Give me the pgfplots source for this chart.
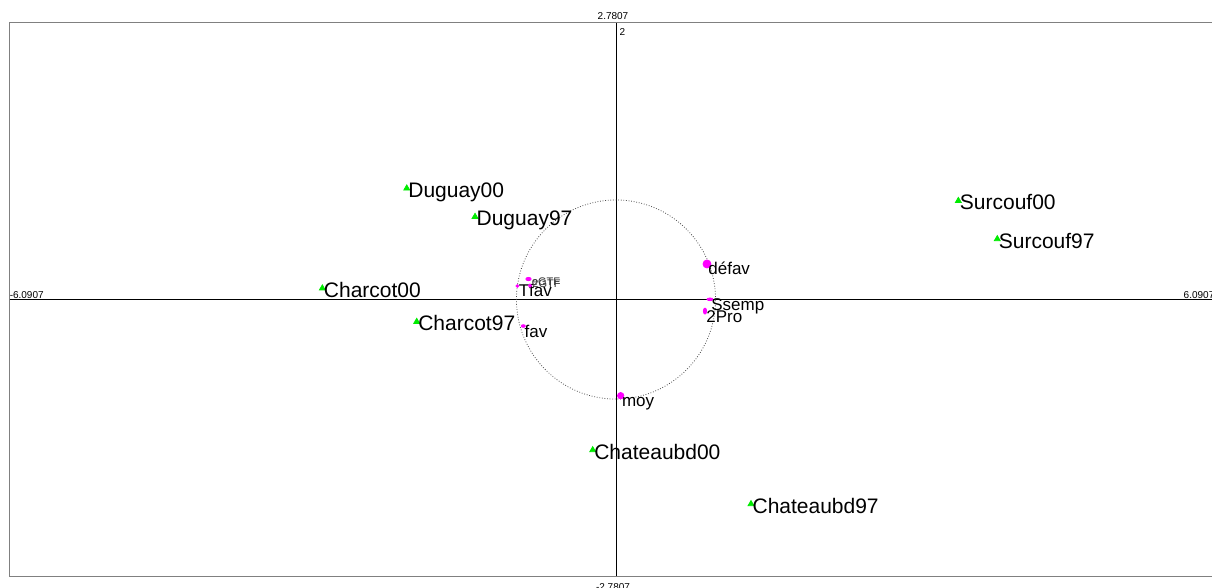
\documentclass[border=0pt]{standalone}
\usepackage{pgfplots}
\pgfplotsset{compat=1.18}
\usepackage{fontspec}
\setmainfont{Liberation Sans}
\definecolor{grn}{RGB}{0,235,0}
\definecolor{mag}{RGB}{255,0,255}
\pgfplotsset{
  maglab/.style={only marks, mark=*, color=mag, nodes near coords, point meta=explicit symbolic,
    every node near coord/.append style={font=\fontsize{8.5}{10}\selectfont, text=black, anchor=base west, inner sep=0pt, xshift=0.5pt, yshift=-5.5pt}},
}
\begin{document}
\begin{tikzpicture}
\begin{axis}[
  x=49.775pt, y=49.775pt,
  xmin=-6.0907, xmax=6.0907, ymin=-2.7807, ymax=2.7807,
  axis line style={draw=gray, line width=0.7pt},
  xtick=\empty, ytick=\empty,
  clip=false,
]
% reference lines and circle
\draw[black, line width=0.5pt] (axis cs:-6.0907,0) -- (axis cs:6.0907,0);
\draw[black, line width=0.5pt] (axis cs:0,-2.7807) -- (axis cs:0,2.7807);
\draw[gray!60!black, line width=0.4pt, dash pattern=on 0.4pt off 0.9pt] (axis cs:0,0) circle[radius=1];

% edge labels
\node[font=\fontsize{5}{6}\selectfont, anchor=base, inner sep=0pt] at (axis cs:-0.03,2.815) {2.7807};
\node[font=\fontsize{5}{6}\selectfont, anchor=base, inner sep=0pt] at (axis cs:-0.03,-2.918) {-2.7807};
\node[font=\fontsize{5}{6}\selectfont, anchor=base west, inner sep=0pt] at (axis cs:-6.094,0.015) {-6.0907};
\node[font=\fontsize{5}{6}\selectfont, anchor=base west, inner sep=0pt] at (axis cs:5.699,0.015) {6.0907};
\node[font=\fontsize{5}{6}\selectfont, anchor=base west, inner sep=0pt] at (axis cs:0.033,2.657) {2};

% individuals (green triangles)
\addplot[only marks, mark=triangle*, mark size=1.7pt, color=grn, nodes near coords, point meta=explicit symbolic,
  every node near coord/.append style={font=\fontsize{10.5}{12}\selectfont, text=black, anchor=base west, inner sep=0pt, xshift=0.6pt, yshift=-4.5pt}]
  table[meta=label] {
x y label
-2.102 1.117 Duguay00
-1.416 0.832 Duguay97
-2.950 0.113 Charcot00
-2.002 -0.223 Charcot97
3.439 0.992 Surcouf00
3.830 0.608 Surcouf97
-0.234 -1.512 Chateaubd00
1.356 -2.054 Chateaubd97
};

% variables (magenta)
\addplot[maglab, mark size=2pt] table[meta=label] {
x y label
0.914 0.357 défav
};
\addplot[maglab, mark size=1pt, mark options={xscale=1.5, yscale=0.67}] table[meta=label] {
x y label
0.944 0.002 Ssemp
};
\addplot[maglab, mark size=1pt, mark options={xscale=0.83, yscale=1.5}] table[meta=label] {
x y label
0.894 -0.116 2Pro
};
\addplot[maglab, mark size=1.6pt] table[meta=label] {
x y label
0.047 -0.966 moy
};
\addplot[maglab, mark size=1pt, mark options={xscale=1, yscale=0.67}] table[meta=label] {
x y label
-0.931 -0.266 fav
};
\addplot[maglab, mark size=0.67pt] table[meta=label] {
x y label
-0.991 0.136 Tfav
};
\addplot[only marks, mark=*, color=mag, mark size=1pt, mark options={xscale=1.33, yscale=0.83}, nodes near coords, point meta=explicit symbolic,
  every node near coord/.append style={font=\fontsize{5.5}{6}\selectfont, text=black!80, anchor=base west, inner sep=0pt, xshift=1.5pt, yshift=-3.3pt}] table[meta=label] {
x y label
-0.879 0.206 eGTF
};
\addplot[only marks, mark=*, color=mag, mark size=0.83pt, nodes near coords, point meta=explicit symbolic,
  every node near coord/.append style={font=\fontsize{5.5}{6}\selectfont, text=black!80, anchor=base west, inner sep=0pt, xshift=1pt, yshift=-0.8pt}] table[meta=label] {
x y label
-0.864 0.139 2GTF
};

\coordinate (bbsw) at (axis cs:-6.188,-2.888);
\coordinate (bbne) at (axis cs:5.987,3.009);
\end{axis}
\pgfresetboundingbox
\useasboundingbox (bbsw) rectangle (bbne);
\end{tikzpicture}
\end{document}
